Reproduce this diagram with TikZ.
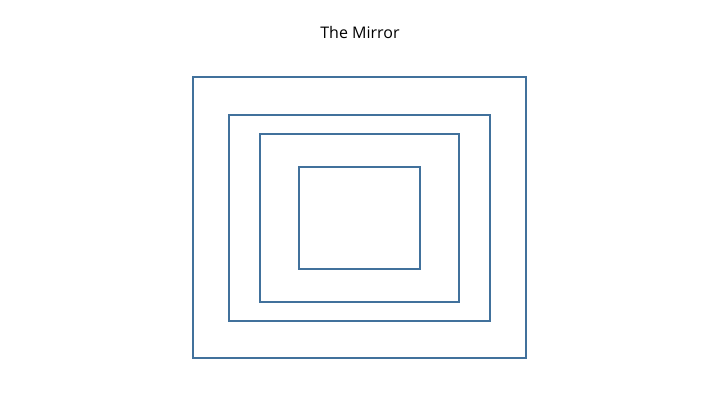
\documentclass[tikz,border=0pt]{standalone}
\usepackage{fontspec}
\setmainfont{Open Sans}
\definecolor{frame}{HTML}{41719C}
\begin{document}
\begin{tikzpicture}[x=1pt,y=-1pt,
  mirrorbox/.style={draw=frame,line width=2pt}]
\useasboundingbox (0,0) rectangle (720,405);
\node[font=\fontsize{16}{19}\selectfont] (title) at (360,32) {The Mirror};
\draw[mirrorbox] (193,77) rectangle (526,358);
\draw[mirrorbox] (229,115) rectangle (490,321);
\draw[mirrorbox] (260,134) rectangle (459,302);
\draw[mirrorbox] (299,167) rectangle (420,269);
\end{tikzpicture}
\end{document}
